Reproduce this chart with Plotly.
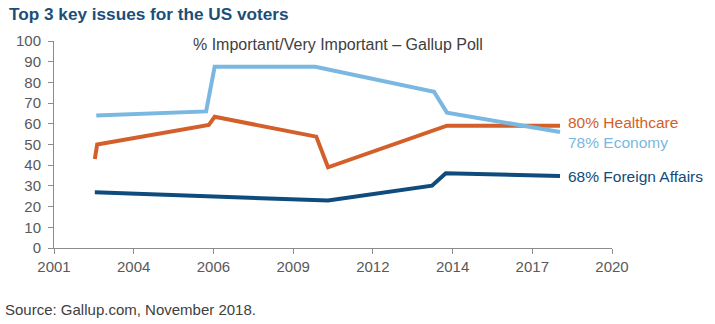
import plotly.graph_objects as go

# Data (x in fractional years)
econ_x = [2002.44, 2006.18, 2006.47, 2009.90, 2013.94, 2014.38, 2018.23]
econ_y = [64, 66, 87.5, 87.5, 75.5, 65.4, 56]
health_x = [2002.39, 2002.47, 2006.27, 2006.47, 2009.93, 2010.33, 2014.38, 2018.23]
health_y = [43, 50, 59.4, 63.4, 53.8, 39, 59.1, 59.1]
foreign_x = [2002.39, 2010.33, 2013.87, 2014.34, 2018.23]
foreign_y = [26.9, 22.9, 30.1, 36.1, 34.8]

tick_labels = ["2001", "2004", "2006", "2009", "2012", "2014", "2017", "2020"]
tick_vals = [2001 + k * 19 / 7 for k in range(len(tick_labels))]
y_ticks = list(range(0, 101, 10))

series = [
    ("78% Economy", econ_x, econ_y, "#7AB8E1", 142.7),
    ("80% Healthcare", health_x, health_y, "#D3602A", 122.5),
    ("68% Foreign Affairs", foreign_x, foreign_y, "#0F4B7C", 176.5),
]

FONT = "Liberation Sans, Arial, sans-serif"
fig = go.Figure()
for name, xs, ys, col, _ in [series[2], series[1], series[0]]:
    fig.add_trace(go.Scatter(x=xs, y=ys, mode="lines", name=name,
                             line=dict(color=col, width=4), showlegend=False))

W, H = 715, 324
L, R, T, B = 53.5, 103, 40.7, 76
fig.update_layout(
    width=W, height=H,
    margin=dict(l=L, r=R, t=T, b=B),
    paper_bgcolor="white", plot_bgcolor="white",
    font=dict(family=FONT, color="#595959", size=15),
    xaxis=dict(range=[2001, 2020], tickvals=tick_vals, ticktext=tick_labels,
               showgrid=False, zeroline=False, showline=True, linecolor="#8c8c8c",
               linewidth=1, ticks="outside", ticklen=5, tickcolor="#8c8c8c",
               tickfont=dict(size=15, color="#595959")),
    yaxis=dict(range=[0, 100], tickvals=y_ticks, showgrid=False, zeroline=False,
               showline=True, linecolor="#8c8c8c", linewidth=1, ticks="outside",
               ticklen=5, tickcolor="#8c8c8c", ticklabelstandoff=4,
               tickfont=dict(size=15, color="#595959")),
)

# Title
fig.add_annotation(text="<b>Top 3 key issues for the US voters</b>", xref="paper", yref="paper",
                   x=-(L - 6) / (W - L - R), y=1 + (T - 14) / (H - T - B), xanchor="left", yanchor="middle",
                   showarrow=False, font=dict(family=FONT, size=17.2, color="#1B4F7A"))
# Subtitle
fig.add_annotation(text="% Important/Very Important \u2013 Gallup Poll", xref="paper", yref="paper",
                   x=(338 - L) / (W - L - R), y=1 - (44 - T) / (H - T - B), xanchor="center", yanchor="middle",
                   showarrow=False, font=dict(family=FONT, size=16, color="#404040"))
# End labels
for name, xs, ys, col, py in series:
    fig.add_annotation(text=name, xref="paper", yref="paper",
                       x=(566 - L) / (W - L - R), y=1 - (py - T) / (H - T - B),
                       xanchor="left", yanchor="middle", showarrow=False,
                       font=dict(family=FONT, size=15.5, color=col))
# Source
fig.add_annotation(text="Source: Gallup.com, November 2018.", xref="paper", yref="paper",
                   x=-(L - 2) / (W - L - R), y=-(310 - (H - B)) / (H - T - B),
                   xanchor="left", yanchor="middle", showarrow=False,
                   font=dict(family=FONT, size=15, color="#404040"))

fig.write_html("out.html")
